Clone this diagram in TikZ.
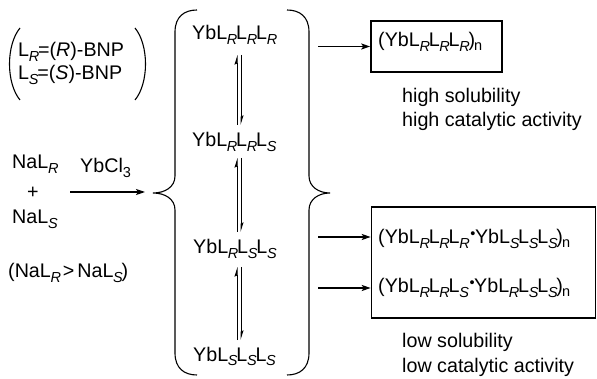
\documentclass[tikz,border=0pt]{standalone}
\usepackage{fontspec}
\setmainfont{Liberation Sans}
\usetikzlibrary{arrows.meta}
\newcommand\subsz{\fontsize{14.5}{14.5}\selectfont}
\newcommand\mainsz{\fontsize{19.7}{23}\selectfont}
\newcommand\Lx[1]{L\kern-0.3pt\raisebox{-4.5pt}{\subsz\itshape #1}\kern-1.2pt}
\newcommand\nsub{\kern-1pt\raisebox{-4pt}{\subsz n}}
\newcommand\bul{\kern1.8pt\raisebox{5pt}{\subsz\textbullet}\kern-0.5pt}
\begin{document}
\begin{tikzpicture}[x=1pt,y=-1pt,
  txt/.style={anchor=base west,inner sep=0pt,font=\mainsz},
  curve/.style={line width=1.1pt},
  arr/.style={line width=1.1pt,-{Stealth[length=9pt,width=6pt,inset=2pt]}},
  harpL/.style={line width=1pt,-{Stealth[left,length=8pt,width=5pt,inset=1pt]}},
  boxed/.style={draw,line width=1.6pt,inner sep=0pt}]
\useasboundingbox (0,0) rectangle (597,379);
% ligand definitions
\node[txt] (lr) at (18,57) {\Lx{R}=(\textit{R})-BNP};
\node[txt] (ls) at (18,80) {\Lx{S}=(\textit{S})-BNP};
\draw[curve] (20,28) .. controls (6,45) and (6,83) .. (20,100);
\draw[curve] (135,28) .. controls (149,45) and (149,83) .. (135,100);
% reactants
\node[txt] (nar) at (12,169) {Na\Lx{R}};
\node[font=\mainsz,inner sep=0pt] (plus) at (33,193) {+};
\node[txt] (nas) at (12,224) {Na\Lx{S}};
\node[txt] (ybcl) at (80,173) {YbCl\raisebox{-4.5pt}{\subsz 3}};
\node[txt] (ratio) at (8,278) {(Na\Lx{R}\kern3pt>\kern3pt Na\Lx{S})};
\coordinate (m0) at (70,192);
\coordinate (m1) at (145,192);
\draw[arr] (m0) -- (m1);
% braces
\coordinate (ltip) at (153,193);
\coordinate (rtip) at (330,193);
\draw[curve] (197,10) .. controls (184,10) and (175,17) .. (175,32) -- (175,176)
  .. controls (175,187) and (165,193) .. (ltip)
  .. controls (165,193) and (175,199) .. (175,210) -- (175,353)
  .. controls (175,368) and (184,375) .. (197,375);
\draw[curve] (287,10) .. controls (300,10) and (309,17) .. (309,32) -- (309,176)
  .. controls (309,187) and (319,193) .. (rtip)
  .. controls (319,193) and (309,199) .. (309,210) -- (309,353)
  .. controls (309,368) and (300,375) .. (287,375);
% complexes
\node[txt] (c1) at (192,40) {Yb\Lx{R}\Lx{R}\Lx{R}};
\node[txt] (c2) at (192,147) {Yb\Lx{R}\Lx{R}\Lx{S}};
\node[txt] (c3) at (193,254) {Yb\Lx{R}\Lx{S}\Lx{S}};
\node[txt] (c4) at (193,361) {Yb\Lx{S}\Lx{S}\Lx{S}};
% equilibria
\foreach \i/\ya/\yb in {1/55/125, 2/158/232, 3/267/340}{
  \coordinate (eqa\i) at (237,\yb);
  \coordinate (eqb\i) at (237,\ya);
  \coordinate (eqc\i) at (241,\ya);
  \coordinate (eqd\i) at (241,\yb);
  \draw[harpL] (eqa\i) -- (eqb\i);
  \draw[harpL] (eqc\i) -- (eqd\i);
}
% products
\node[boxed,minimum width=131pt,minimum height=51pt] (box1) at (436.5,46.5) {};
\node[txt] (p1) at (378,47) {(Yb\Lx{R}\Lx{R}\Lx{R})\nsub};
\node[txt] (h1) at (402,103) {high solubility};
\node[txt] (h2) at (402,127) {high catalytic activity};
\node[boxed,minimum width=224pt,minimum height=111pt] (box2) at (483.5,262.5) {};
\node[txt] (p2) at (378,244) {(Yb\Lx{R}\Lx{R}\Lx{R}\bul Yb\Lx{S}\Lx{S}\Lx{S})\nsub};
\node[txt] (p3) at (378,293) {(Yb\Lx{R}\Lx{R}\Lx{S}\bul Yb\Lx{R}\Lx{S}\Lx{S})\nsub};
\node[txt] (l1) at (402,347) {low solubility};
\node[txt] (l2) at (402,372) {low catalytic activity};
\coordinate (a1) at (318,46.5);
\coordinate (a2) at (318,237);
\coordinate (a3) at (318,288);
\draw[arr] (a1) -- (box1.west);
\draw[arr] (a2) -- (a2 -| box2.west);
\draw[arr] (a3) -- (a3 -| box2.west);
\end{tikzpicture}
\end{document}
